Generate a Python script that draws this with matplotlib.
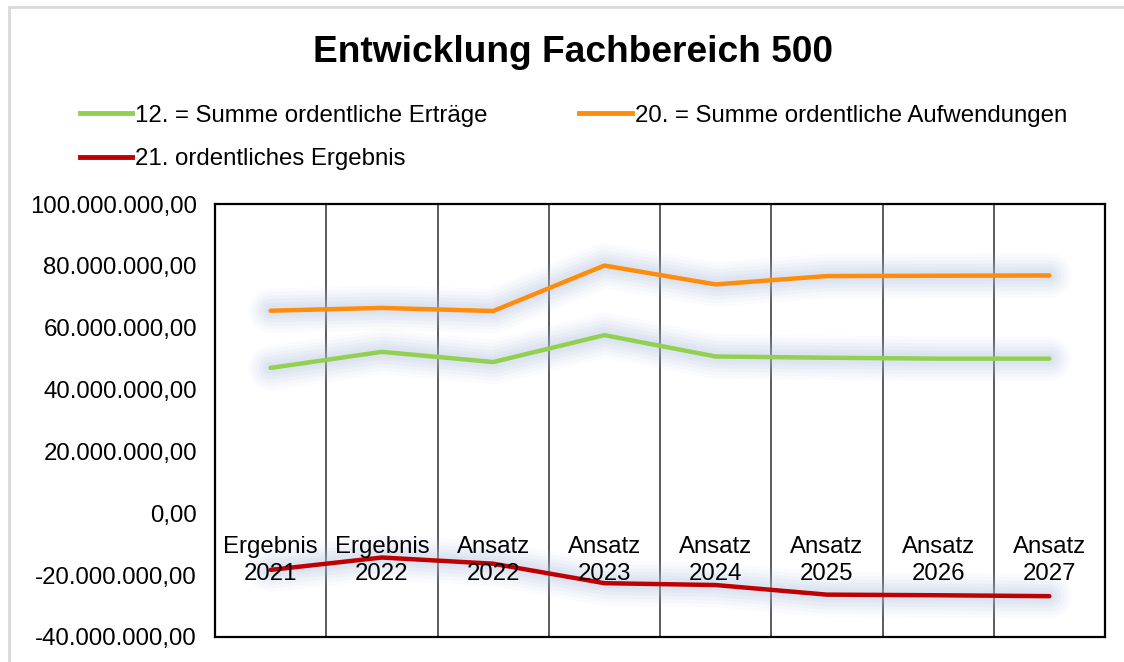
import matplotlib
matplotlib.use("Agg")
import matplotlib.pyplot as plt
import matplotlib.patheffects as pe
from matplotlib.ticker import FuncFormatter, MultipleLocator
from matplotlib.patches import Rectangle

plt.rcParams['font.family'] = ['Liberation Sans', 'DejaVu Sans']

categories = ["Ergebnis\n2021", "Ergebnis\n2022", "Ansatz\n2022", "Ansatz\n2023",
              "Ansatz\n2024", "Ansatz\n2025", "Ansatz\n2026", "Ansatz\n2027"]
ertraege = [47.0e6, 52.2e6, 48.9e6, 57.6e6, 50.7e6, 50.3e6, 50.0e6, 50.0e6]
aufwendungen = [65.5e6, 66.4e6, 65.4e6, 80.1e6, 74.0e6, 76.7e6, 76.8e6, 76.9e6]
ergebnis = [-18.3e6, -14.3e6, -16.3e6, -22.6e6, -23.2e6, -26.3e6, -26.5e6, -26.8e6]

series = [
    ("12. = Summe ordentliche Erträge", ertraege, "#92d050"),
    ("20. = Summe ordentliche Aufwendungen", aufwendungen, "#ff8c0a"),
    ("21. ordentliches Ergebnis", ergebnis, "#c00000"),
]

FS = 17.3

fig = plt.figure(figsize=(11.24, 6.62), dpi=100)
fig.patches.append(Rectangle((9/1124, -0.1), 1.2, 1 - 7/662 + 0.1, transform=fig.transFigure,
                             fill=False, edgecolor="#d9d9d9", linewidth=2))
ax = fig.add_axes([215/1124, 25/662, 890/1124, 433/662])

x = list(range(len(categories)))
glow = [pe.Stroke(linewidth=w, foreground="#b4c6e4", alpha=a)
        for w, a in [(32, 0.06), (27, 0.07), (22, 0.09), (17, 0.10), (12, 0.11), (8, 0.11)]]
glow.append(pe.Normal())
handles = []
for label, vals, color in series:
    ln, = ax.plot(x, vals, color=color, linewidth=3.2, solid_capstyle="round",
                  solid_joinstyle="round", label=label, zorder=3, path_effects=glow)
    handles.append(ln)

for b in [i + 0.5 for i in x[:-1]]:
    ax.axvline(b, color="#5a5a5a", linewidth=1.4, zorder=1)

ax.set_xlim(-0.5, len(categories) - 0.5)
ax.set_ylim(-40e6, 100e6)
ax.yaxis.set_major_locator(MultipleLocator(20e6))

def fmt(v, pos):
    s = f"{abs(v):,.2f}".replace(",", "X").replace(".", ",").replace("X", ".")
    return ("-" if v < 0 else "") + s

ax.yaxis.set_major_formatter(FuncFormatter(fmt))
ax.tick_params(axis="y", length=0, pad=13, labelsize=FS)
ax.set_xticks([])
for sp in ax.spines.values():
    sp.set_color("black")
    sp.set_linewidth(1.6)

for i, c in enumerate(categories):
    ax.annotate(c, xy=(i, 0), xytext=(0, -16.5), textcoords="offset points",
                ha="center", va="top", fontsize=FS, zorder=5, linespacing=1.3)

fig.text(0.51, 1 - 52/662, "Entwicklung Fachbereich 500", ha="center", va="center",
         fontsize=26.7, fontweight="bold")

leg_handles = [handles[0], handles[2], handles[1]]
leg = fig.legend(handles=[plt.Line2D([], [], color=h.get_color(), linewidth=3.5) for h in leg_handles],
                 labels=[h.get_label() for h in leg_handles], ncol=2,
                 loc="upper left", bbox_to_anchor=(58/1124, 1 - 83/662), frameon=False,
                 fontsize=FS, handlelength=2.2, handletextpad=0.12, columnspacing=3.8,
                 labelspacing=0.9)

fig.savefig("out.png", dpi=100)
